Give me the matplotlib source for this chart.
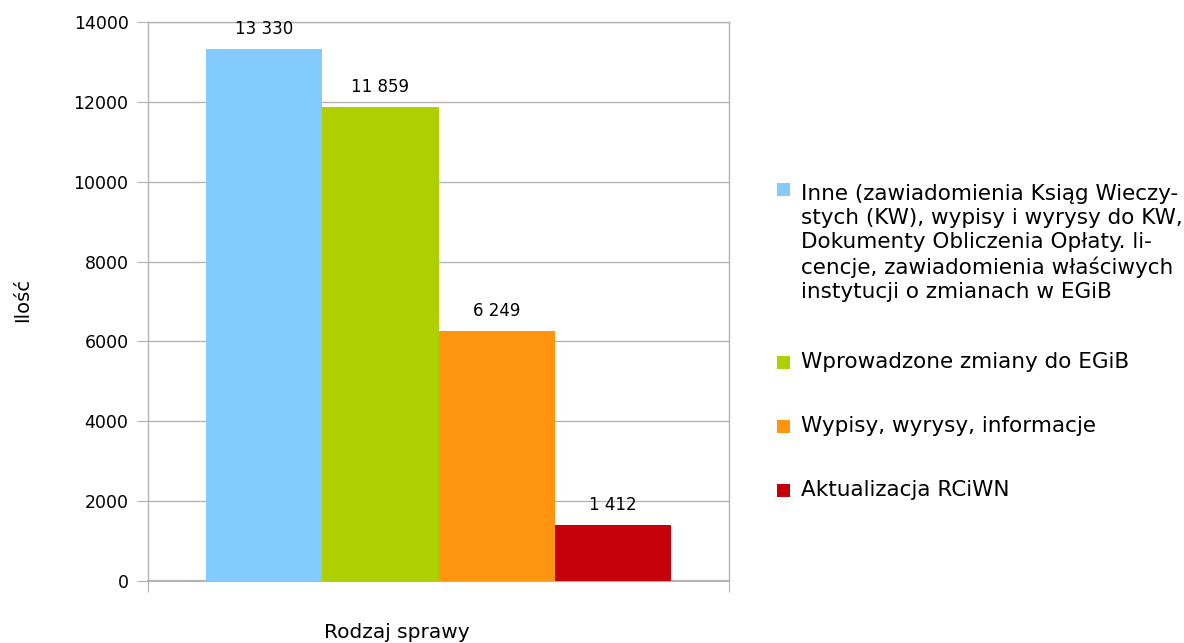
import matplotlib.pyplot as plt
from matplotlib.patches import Rectangle

plt.rcParams['font.family'] = ['DejaVu Sans']

# Data
series_labels = [
    "Inne (zawiadomienia Ksiąg Wieczy-\nstych (KW), wypisy i wyrysy do KW,\n"
    "Dokumenty Obliczenia Opłaty. li-\ncencje, zawiadomienia właściwych\n"
    "instytucji o zmianach w EGiB",
    "Wprowadzone zmiany do EGiB",
    "Wypisy, wyrysy, informacje",
    "Aktualizacja RCiWN",
]
values = [13330, 11859, 6249, 1412]
value_texts = ["13 330", "11 859", "6 249", "1 412"]
colors = ['#83caff', '#aecf00', '#ff950e', '#c5000b']
y_ticks = [0, 2000, 4000, 6000, 8000, 10000, 12000, 14000]

W, H = 1184, 643
fig = plt.figure(figsize=(W / 100, H / 100), dpi=100)
ax = fig.add_axes([148 / W, 1 - 581 / H, 581 / W, 559 / H])

grid_color = '#b3b3b3'
n = len(values)
width = 0.8 / n
for i, (v, c, t) in enumerate(zip(values, colors, value_texts)):
    x = -0.4 + width * (i + 0.5)
    ax.bar(x, v, width=width, color=c, zorder=3)
    ax.annotate(t, (x, v), xytext=(0, 8), textcoords='offset points',
                ha='center', va='bottom', fontsize=12, color='#000000')

ax.set_xlim(-0.5, 0.5)
ax.set_ylim(0, 14000)
ax.set_yticks(y_ticks)
ax.set_yticklabels([str(t) for t in y_ticks], fontsize=12.5)
ax.set_xticks([-0.5, 0.5])
ax.set_xticklabels(['', ''])
ax.tick_params(axis='y', length=8, color=grid_color, pad=6)
ax.tick_params(axis='x', length=8, color=grid_color)
ax.grid(axis='y', color=grid_color, linewidth=1, zorder=0)

for name, spine in ax.spines.items():
    spine.set_color(grid_color)
    spine.set_linewidth(1)
ax.spines['bottom'].set_linewidth(1.5)

# axis titles
fig.text(23 / W, 1 - 300 / H, 'Ilość', rotation=90, ha='center', va='center', fontsize=14)
fig.text(397 / W, 1 - 632 / H, 'Rodzaj sprawy', ha='center', va='center', fontsize=14.5)

# legend drawn by hand so the swatch sits on the first text line
first_line_y = [189, 362, 426, 490]
line_h = 27
sq = 13
for lab, c, y0 in zip(series_labels, colors, first_line_y):
    nlines = lab.count('\n') + 1
    fig.patches.append(Rectangle((777 / W, 1 - (y0 + sq / 2) / H), sq / W, sq / H,
                                 transform=fig.transFigure, facecolor=c, edgecolor='none'))
    yc = y0 + (nlines - 1) * line_h / 2
    fig.text(801 / W, 1 - yc / H, lab, ha='left', va='center', fontsize=15.5,
             linespacing=1.25)

fig.savefig('out.png', dpi=100)
